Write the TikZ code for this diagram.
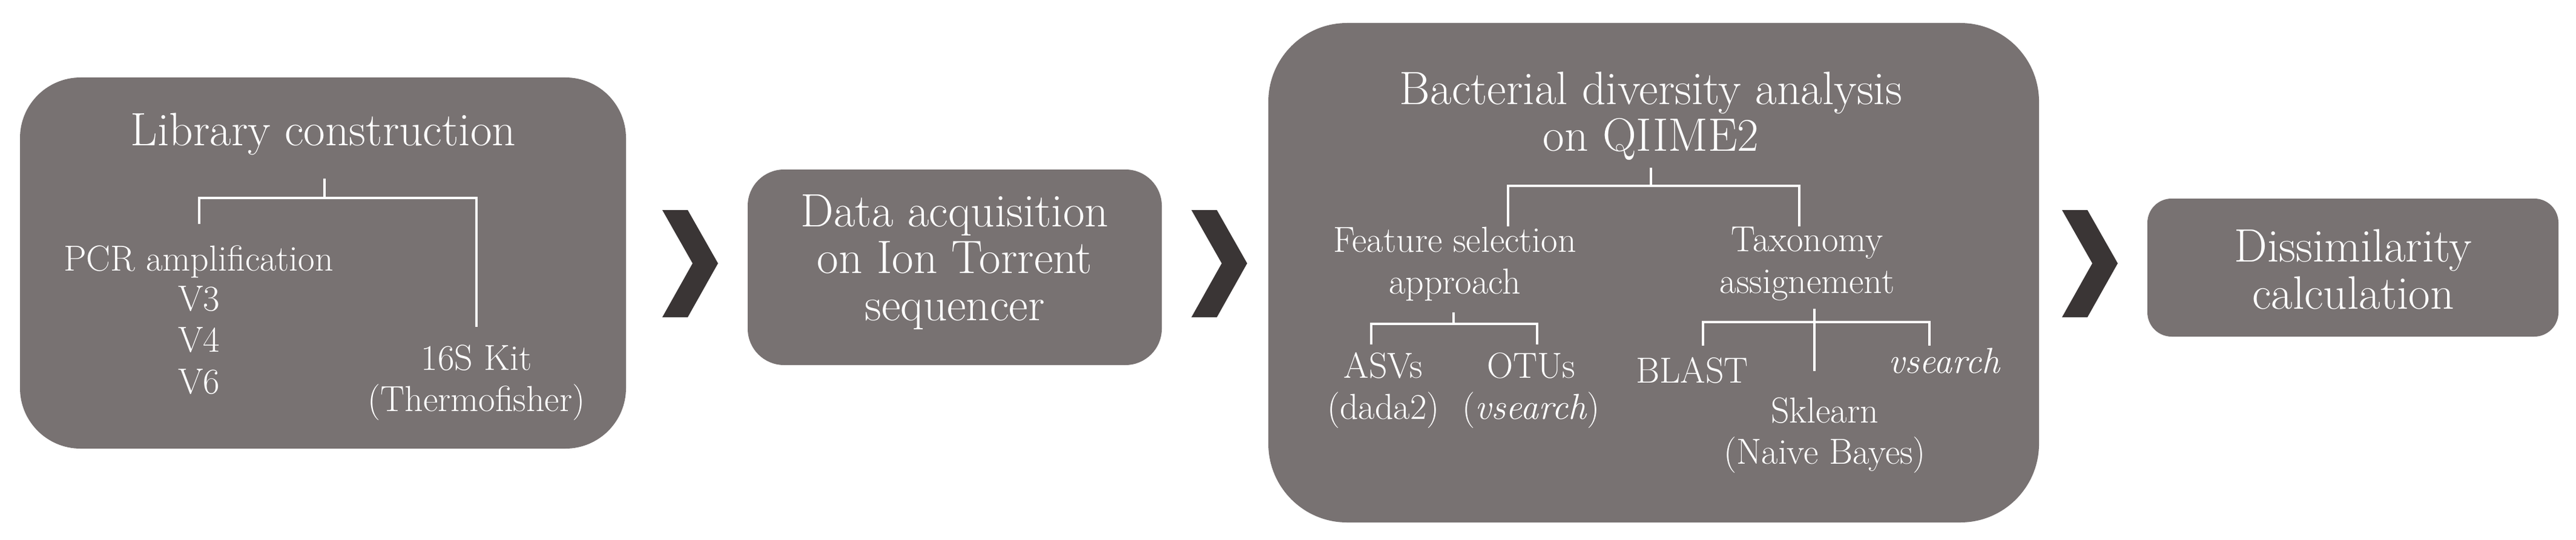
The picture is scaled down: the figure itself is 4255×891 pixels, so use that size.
\documentclass[tikz,border=0pt]{standalone}
\begin{document}
\begin{tikzpicture}[x=0.01cm,y=-0.01cm,
  box/.style={fill=boxc,draw=none},
  t/.style={text=white,align=center,inner sep=0pt,anchor=center},
  big/.style={t,font=\fontsize{22}{22}\selectfont},
  sm/.style={t,font=\fontsize{17}{19.5}\selectfont},
  ln/.style={draw=white,line width=0.9pt},
  chev/.style={fill=chevc,draw=none}]
\definecolor{boxc}{HTML}{787272}
\definecolor{chevc}{HTML}{3A3535}
\useasboundingbox (0,0) rectangle (4255,891);
% boxes
\fill[box,rounded corners=1cm] (33,128) rectangle (1034,741);
\fill[box,rounded corners=0.6cm] (1235,280) rectangle (1919,603);
\fill[box,rounded corners=1.3cm] (2095,38) rectangle (3368,863);
\fill[box,rounded corners=0.4cm] (3547,328) rectangle (4226,556);
% chevrons
\foreach \x/\n in {1094/c1,1968/c2,3406/c3}{
  \fill[chev] (\x,347) -- (\x+42,347) -- (\x+92,435) -- (\x+42,524) -- (\x,524) -- (\x+50,435) -- cycle;
}
% box 1
\node[big] (lib) at (534,222) {Library construction};
\node[sm] (pcr) at (328,432) {PCR amplification};
\node[sm] (v) at (329,562) {V3\\V4\\V6};
\node[sm] (kit) at (787,632) {16S Kit\\(Thermofisher)};
\coordinate (j1) at (536,327);
\draw[ln] (536,295) -- (j1);
\draw[ln] (329,370) -- (329,327) -- (787,327) -- (787,540);
% box 2
\node[big] (data) at (1577,433) {Data acquisition\\on Ion Torrent\\sequencer};
% box 3
\node[big] (bact) at (2727,192) {Bacterial diversity analysis\\on QIIME2};
\draw[ln] (2727,277) -- (2727,307);
\draw[ln] (2491,374) -- (2491,307) -- (2972,307) -- (2972,374);
\node[sm] (feat) at (2403,436) {Feature selection\\approach};
\node[sm] (tax) at (2985,436) {Taxonomy\\assignement};
\draw[ln] (2401,516) -- (2401,535);
\draw[ln] (2265,569) -- (2265,535) -- (2539,535) -- (2539,569);
\node[sm] (asv) at (2285,645) {ASVs\\(dada2)};
\node[sm] (otu) at (2529,645) {OTUs\\(\textit{vsearch})};
\draw[ln] (2997,510) -- (2997,613);
\draw[ln] (2813,571) -- (2813,532) -- (3187,532) -- (3187,571);
\node[sm] (blast) at (2795,612) {BLAST};
\node[sm] (vs) at (3212,596) {\textit{vsearch}};
\node[sm] (skl) at (3014,719) {Sklearn\\(Naive Bayes)};
% box 4
\node[big] (dis) at (3887,445) {Dissimilarity\\calculation};
\end{tikzpicture}
\end{document}
